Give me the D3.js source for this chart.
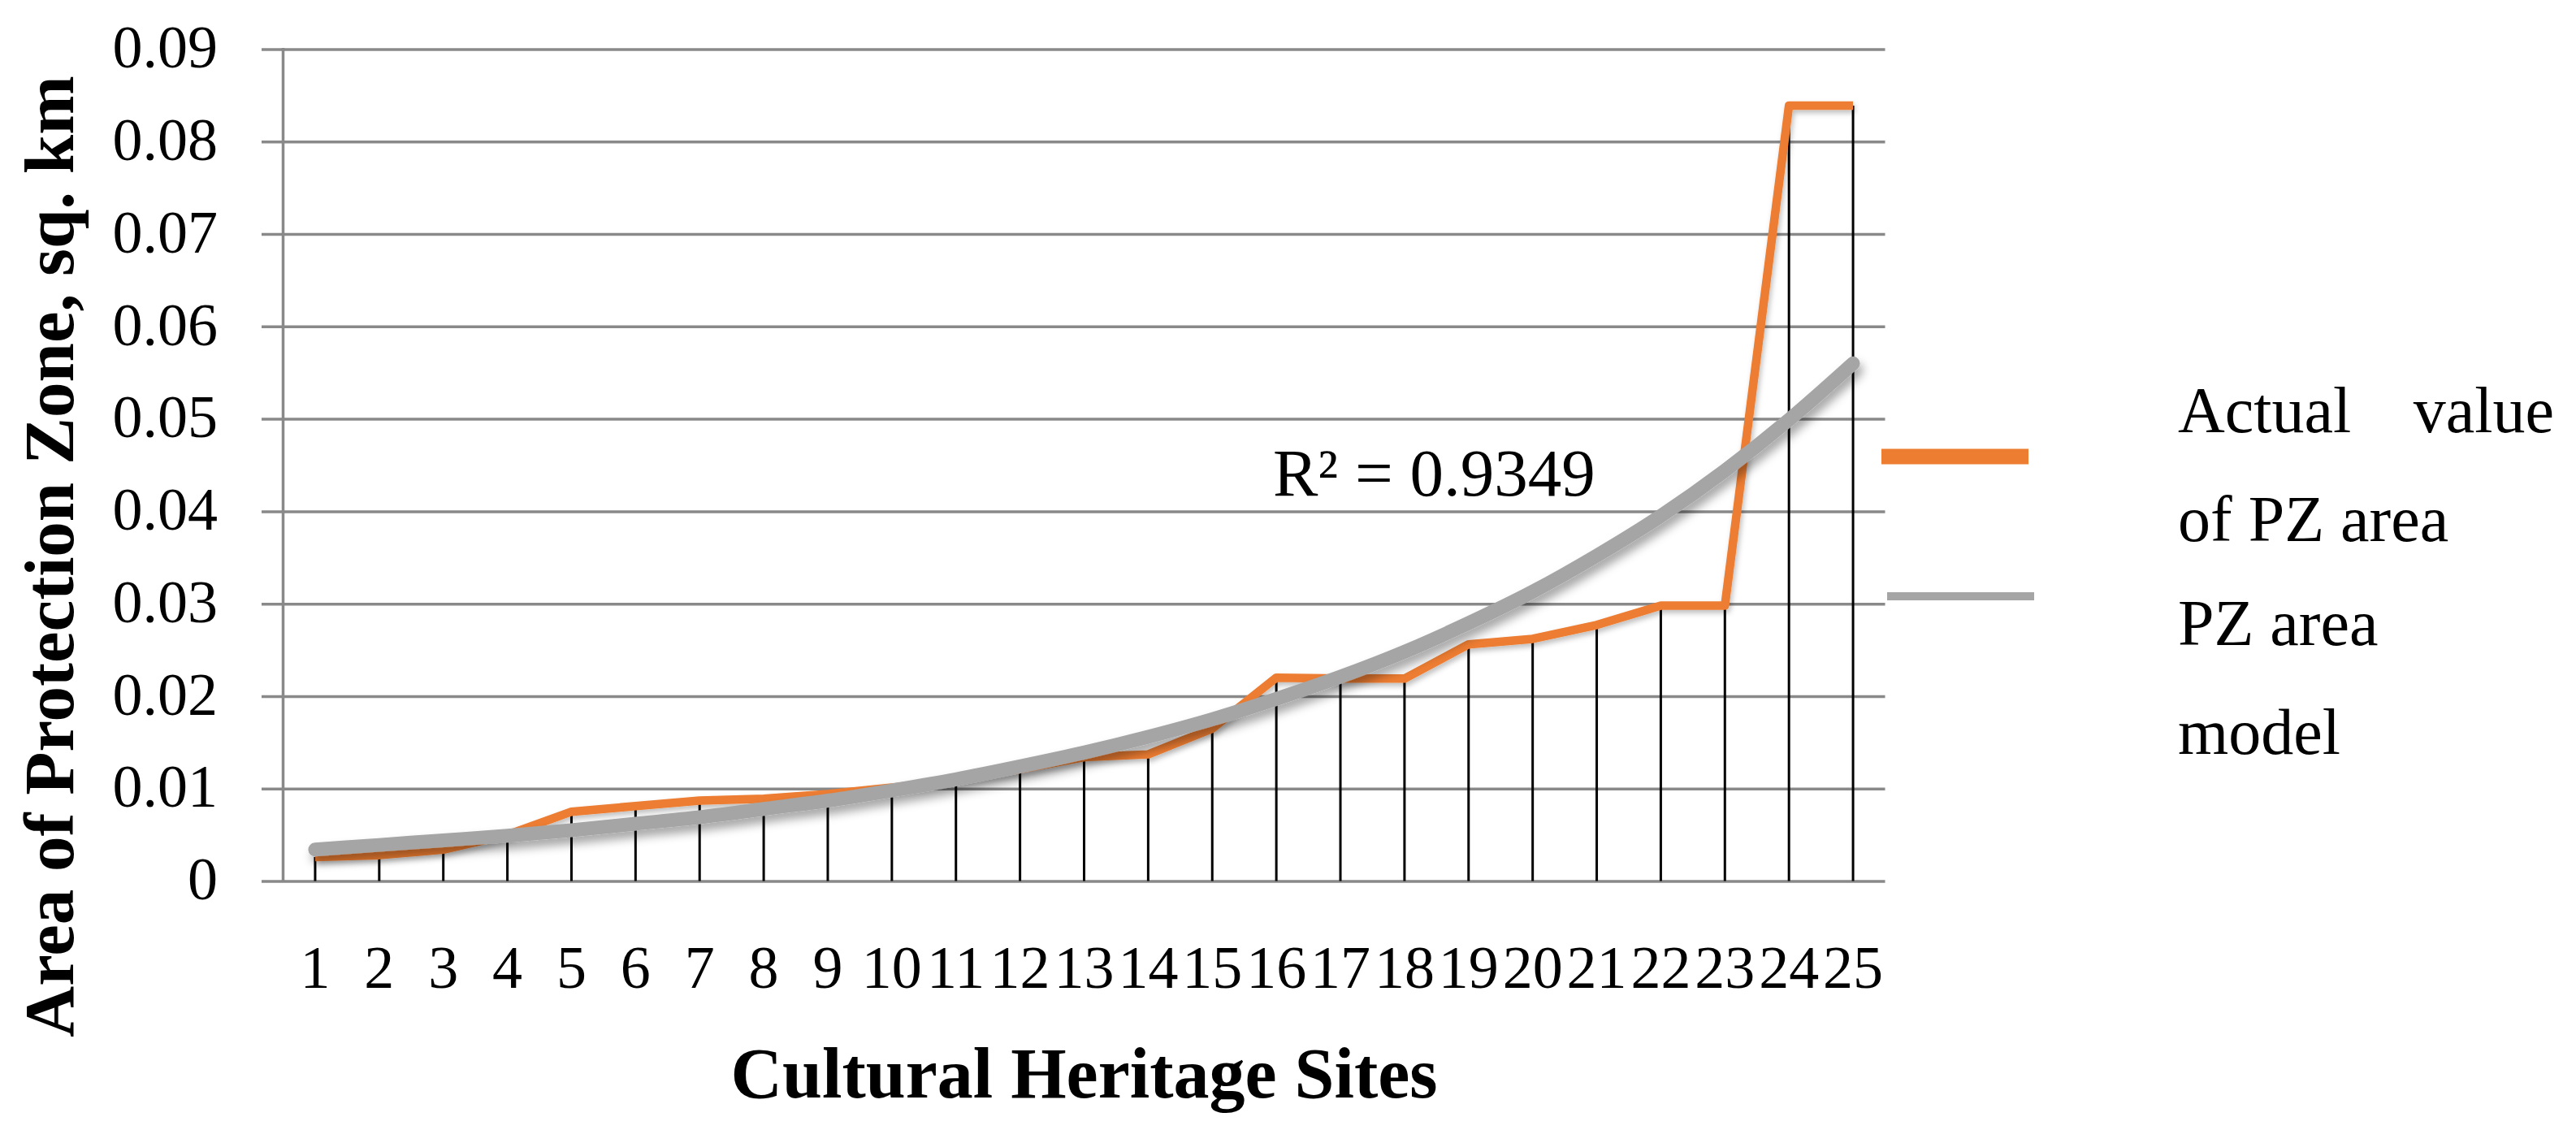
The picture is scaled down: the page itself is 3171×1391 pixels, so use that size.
<!DOCTYPE html>
<html lang="en">
<head>
  <meta charset="UTF-8">
  <title>Area of Protection Zone by Cultural Heritage Site</title>
  <script src="https://d3js.org/d3.v7.min.js"></script>
  <style>
    body {
      margin: 0;
      background: #fff;
    }
    svg text {
      font-family: "Liberation Serif", "Times New Roman", serif;
      fill: #000;
    }
  </style>
</head>
<body>

<svg width="3171" height="1391"></svg>

<script>
// sites on the x axis
const sites = d3.range(1, 26).map(String);

// actual value of PZ area, sq. km
const actual = [0.0026, 0.0028, 0.0034, 0.0050, 0.0075, 0.0081, 0.0087, 0.0089, 0.0094, 0.0101,
                0.0110, 0.0121, 0.0134, 0.0137, 0.0165, 0.0220, 0.0219, 0.0219, 0.0256, 0.0262,
                0.0277, 0.0298, 0.0298, 0.0839, 0.0839];

// PZ area model (trend line), read at each site
const model = [0.0034, 0.0039, 0.0044, 0.0049, 0.0055, 0.0062, 0.0069, 0.0078, 0.0087, 0.0098,
               0.0110, 0.0124, 0.0139, 0.0156, 0.0175, 0.0197, 0.0221, 0.0248, 0.0279, 0.0313,
               0.0352, 0.0395, 0.0444, 0.0499, 0.0560];

const yTicks = [0, 0.01, 0.02, 0.03, 0.04, 0.05, 0.06, 0.07, 0.08, 0.09];
const legendLabels = [["Actual", "value", "of PZ area"], ["PZ area", "model"]];
const rSquared = "R\u00b2 = 0.9349";

const svg = d3.select("svg");
const plotLeft = 348.5, plotRight = 2320.5, plotTop = 60.5, plotBottom = 1084.5;

const x = d3.scaleBand().domain(sites).range([plotLeft, plotRight]).padding(0);
const y = d3.scaleLinear().domain([0, 0.09]).range([plotBottom, plotTop]);
const cx = s => x(s) + x.bandwidth() / 2;

const defs = svg.append("defs");
defs.append("filter").attr("id", "shadow")
    .attr("x", "-10%").attr("y", "-10%").attr("width", "130%").attr("height", "140%")
  .append("feDropShadow")
    .attr("dx", 4).attr("dy", 8).attr("stdDeviation", 6)
    .attr("flood-color", "#000").attr("flood-opacity", 0.35);
defs.append("filter").attr("id", "shadowSoft")
    .attr("x", "-10%").attr("y", "-10%").attr("width", "130%").attr("height", "140%")
  .append("feDropShadow")
    .attr("dx", 2).attr("dy", 4).attr("stdDeviation", 3)
    .attr("flood-color", "#000").attr("flood-opacity", 0.25);

// gridlines + y tick labels
const yAxis = svg.append("g")
    .attr("transform", `translate(322,0)`)
    .call(d3.axisLeft(y).tickValues(yTicks).tickSize(-(plotRight - 322)).tickPadding(54)
      .tickFormat(d => d === 0 ? "0" : d3.format(".2f")(d)));
yAxis.select(".domain").remove();
yAxis.selectAll(".tick line").attr("stroke", "#898989").attr("stroke-width", 3.5);
yAxis.selectAll(".tick text").attr("font-size", 74).attr("dy", "0.3em");

// vertical axis line
svg.append("line")
    .attr("x1", plotLeft).attr("x2", plotLeft)
    .attr("y1", y(0.09) - 1.5).attr("y2", plotBottom + 1.5)
    .attr("stroke", "#898989").attr("stroke-width", 3.5);

// x tick labels
const xAxis = svg.append("g")
    .attr("transform", `translate(0,${plotBottom})`)
    .call(d3.axisBottom(x).tickSize(0).tickPadding(79));
xAxis.select(".domain").remove();
xAxis.selectAll(".tick text").attr("font-size", 74);

// drop lines
svg.append("g").selectAll("line")
  .data(sites)
  .join("line")
    .attr("x1", d => cx(d)).attr("x2", d => cx(d))
    .attr("y1", (d, i) => y(actual[i])).attr("y2", plotBottom)
    .attr("stroke", "#000").attr("stroke-width", 3);

// actual value line
const line = d3.line().x((d, i) => cx(sites[i])).y(d => y(d));
svg.append("path")
    .datum(actual)
    .attr("d", line)
    .attr("fill", "none")
    .attr("stroke", "#ED7D31")
    .attr("stroke-width", 10.5)
    .attr("stroke-linejoin", "round")
    .attr("filter", "url(#shadowSoft)");

// model trend line
svg.append("path")
    .datum(model)
    .attr("d", line.curve(d3.curveMonotoneX))
    .attr("fill", "none")
    .attr("stroke", "#A5A5A5")
    .attr("stroke-width", 17)
    .attr("stroke-linecap", "round")
    .attr("filter", "url(#shadow)");

// R squared label
svg.append("text")
    .attr("x", 1567).attr("y", 610)
    .attr("font-size", 83)
    .text(rSquared);

// legend
svg.append("line")
    .attr("x1", 2316).attr("x2", 2497).attr("y1", 562).attr("y2", 562)
    .attr("stroke", "#ED7D31").attr("stroke-width", 19);
svg.append("line")
    .attr("x1", 2323).attr("x2", 2504).attr("y1", 734).attr("y2", 734)
    .attr("stroke", "#A5A5A5").attr("stroke-width", 10);

const legend = svg.append("g").attr("font-size", 80);
legend.append("text").attr("x", 2681).attr("y", 532).text(legendLabels[0][0]);
legend.append("text").attr("x", 3144).attr("y", 532).attr("text-anchor", "end").text(legendLabels[0][1]);
legend.append("text").attr("x", 2681).attr("y", 666).text(legendLabels[0][2]);
legend.append("text").attr("x", 2681).attr("y", 794).text(legendLabels[1][0]);
legend.append("text").attr("x", 2681).attr("y", 928).text(legendLabels[1][1]);

// axis titles
svg.append("text")
    .attr("x", (plotLeft + plotRight) / 2)
    .attr("y", 1351)
    .attr("text-anchor", "middle")
    .attr("font-size", 88)
    .attr("font-weight", "bold")
    .text("Cultural Heritage Sites");

svg.append("text")
    .attr("transform", "translate(90,685) rotate(-90)")
    .attr("text-anchor", "middle")
    .attr("font-size", 87)
    .attr("font-weight", "bold")
    .text("Area of Protection Zone, sq. km");
</script>
</body>
</html>
